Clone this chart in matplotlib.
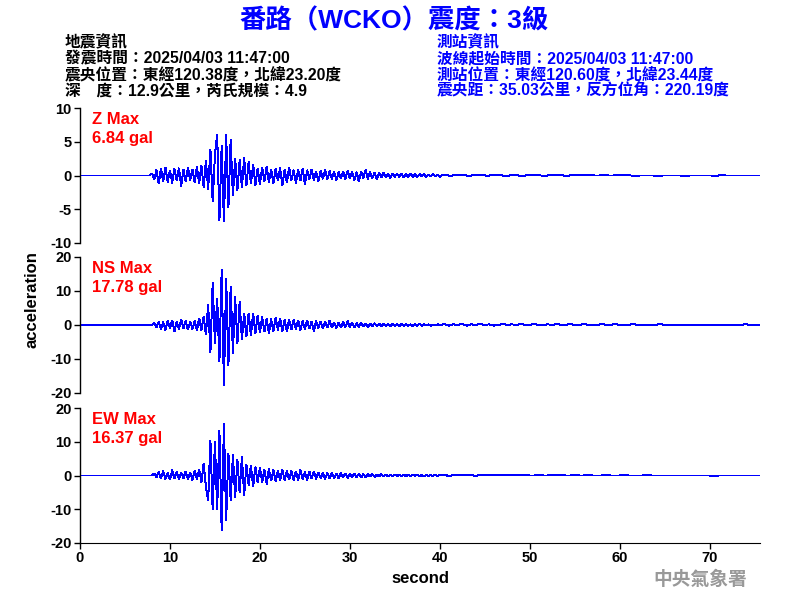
import numpy as np
import matplotlib
matplotlib.use("Agg")
import matplotlib.pyplot as plt

# ---------------- data ----------------
title = "番路（WCKO）震度：3級"
info_left = ["地震資訊",
             "發震時間：2025/04/03 11:47:00",
             "震央位置：東經120.38度，北緯23.20度",
             "深　度：12.9公里，芮氏規模：4.9"]
info_right = ["測站資訊",
              "波線起始時間：2025/04/03 11:47:00",
              "測站位置：東經120.60度，北緯23.44度",
              "震央距：35.03公里，反方位角：220.19度"]

channels = ["Z", "NS", "EW"]
max_values = [6.84, 17.78, 16.37]
y_limits = [10, 20, 20]
y_ticks = [[-10, -5, 0, 5, 10], [-20, -10, 0, 10, 20], [-20, -10, 0, 10, 20]]
x_ticks = [0, 10, 20, 30, 40, 50, 60, 70]
x_max = 75.6

main_step = 0.25
tail_step = 0.5
main_start = [7.75, 8.0, 8.0]

z_main = [0, 0.3, -0.6, 0.8, -1.2, 1.0, -0.9, 1.2, -1.0, 0.8,
          -1.1, 1.0, -0.8, 1.1, -1.6, 0.9, -0.9, 1.2, -0.7, 0.9,
          -1.0, 1.3, -1.2, 1.5, -1.8, 2.2, -2.0, 3.9, -3.9, 3.0,
          6.1, -6.7, 4.5, -6.84, 6.0, -4.7, 5.3, -3.0, 2.5, -2.2,
          2.3, -1.8, 2.6, -1.5, 2.0, -1.2, 1.6, -1.4, 1.1, -1.3,
          1.2, -0.9, 1.3, -1.0, 0.9, -1.2, 1.0, -0.8, 1.1, -1.5,
          0.9, -1.0, 1.2, -0.7, 0.8, -1.1, 0.9, -0.8, 1.0, -1.3,
          0.8, -0.6, 0.9, -0.7, 0.6, -0.9, 0.7, -0.5, 0.8, -0.6,
          0.7, -0.5, 0.6, -0.7, 0.5, -0.4, 0.6, -0.5, 0.7, -0.4,
          0.6, -0.7, 0.5, -0.9, 0.6, -0.4, 0.8, -0.5, 0.5, -0.4,
          0.4, -0.5, 0.4, -0.3, 0.4, -0.3, 0.3, -0.4, 0.3, -0.2,
          0.3, -0.2, 0.3, -0.3, 0.2, -0.2, 0.3, -0.2, 0.2, -0.2,
          0.2, -0.1, 0.2, -0.2, 0.1, -0.1, 0.2, -0.1, 0.1, -0.2, 0.1]
z_tail = [0.1, -0.1, 0.15, 0, 0.1, -0.1, 0.1, 0, 0.15, -0.1,
          0.1, 0, 0.1, -0.1, 0, 0.1, 0, -0.1, 0.1, 0,
          0.1, 0, -0.1, 0.1, 0, 0.1, 0, -0.1, 0.15, 0,
          0.1, 0, 0.1, 0, 0, 0.1, 0, 0, 0.1, 0,
          0.15, 0, -0.1, 0, 0, 0, 0, -0.1, 0, 0,
          0, 0, 0, -0.1, 0, 0, 0, 0, 0, 0,
          -0.15, 0.15, 0, 0, 0, 0, 0, 0, 0, 0, 0]

ns_main = [0, 0.5, -0.8, 1.0, -1.2, 0.9, -1.5, 1.2, -1.0, 1.4,
           -1.9, 1.0, -1.3, 1.6, -1.0, 1.2, -1.4, 1.0, -1.2, 1.3,
           -1.6, 2.0, -1.5, 2.4, -2.8, 5.9, -8.1, 12.5, -5.3, 7.9,
           -10.8, 16.2, -17.78, 13.8, -11.8, 11.3, -8.3, 8.3, -5.3, 6.9,
           -4.4, 3.5, -3.4, 3.5, -3.1, 3.4, -2.5, 2.8, -2.2, 2.5,
           -2.0, 2.0, -2.5, 1.8, -2.0, 2.2, -1.5, 2.0, -1.8, 1.5,
           -2.0, 1.6, -1.4, 1.5, -1.3, 1.4, -1.5, 1.2, -1.2, 1.4,
           -1.1, 1.0, -1.9, 1.2, -0.9, 1.0, -1.0, 0.9, -0.8, 1.3,
           -0.8, 0.8, -0.9, 0.7, -0.8, 0.9, -0.7, 1.2, -0.6, 0.7,
           -0.8, 0.6, -0.6, 0.7, -0.5, 0.5, -0.6, 0.4, -0.4, 0.5,
           -0.3, 0.4, -0.4, 0.3, -0.3, 0.3, -0.4, 0.3, -0.3, 0.2,
           -0.3, 0.3, -0.2, 0.3, -0.2, 0.2, -0.3, 0.2, -0.2, 0.3,
           -0.2, 0.2, -0.1, 0.2, -0.2, 0.1, -0.1, 0.2, -0.1]
ns_tail = [0.3, -0.2, 0.2, 0, 0.3, -0.2, 0.2, 0, 0.3, 0,
           0.2, -0.2, 0, 0.3, 0, 0.2, 0, 0.3, 0, 0,
           0.3, 0, 0, 0.2, 0, 0.3, 0, 0, 0.3, 0,
           0, 0.3, 0, 0, 0, 0.3, 0, 0, 0.3, 0,
           0, 0, 0.3, 0, 0, 0, 0, 0, 0.3, 0,
           0, 0, 0, 0, 0, 0, 0, 0, 0, 0,
           0, 0, 0, 0, 0, 0, 0, 0.3, 0, 0, 0]

ew_main = [0, 0.6, -0.5, 1.0, -0.8, 1.3, -1.0, 0.8, -1.2, 1.6,
           -0.9, 1.0, -1.1, 0.9, -0.8, 1.2, -1.0, 0.8, -1.3, 1.5,
           -1.2, 1.8, -2.0, 3.6, -3.3, -7.3, 10.3, -10.2, 10.0, -10.2,
           13.2, -16.37, 15.3, -13.2, 6.6, -7.3, 6.1, -6.4, 4.6, -5.1,
           5.6, -5.8, 3.2, -2.8, 3.0, -3.3, 2.5, -2.2, 2.4, -2.0,
           1.8, -2.5, 2.0, -1.6, 1.7, -1.8, 1.5, -1.4, 1.8, -1.5,
           1.3, -1.2, 1.4, -1.3, 1.2, -1.4, 1.6, -1.1, 1.0, -1.3,
           1.2, -0.9, 1.1, -1.0, 0.9, -0.8, 0.8, -1.0, 0.7, -0.8,
           0.8, -0.7, 0.6, -0.8, 0.7, -0.6, 0.6, -0.7, 0.5, -0.6,
           0.6, -0.5, 0.5, -0.6, 0.4, -0.5, 0.4, -0.3, 0.4, -0.4,
           0.3, -0.3, 0.4, -0.3, 0.3, -0.3, 0.2, -0.3, 0.3, -0.2,
           0.3, -0.2, 0.2, -0.2, 0.3, -0.2, 0.2, -0.1, 0.2, -0.2,
           0.1, -0.2, 0.2, -0.1, 0.1, -0.1, 0.2, -0.1, 0.1]
ew_tail = [0.3, -0.2, 0.2, 0, 0.3, 0, 0.2, -0.2, 0.3, 0,
           0.2, 0, 0.3, 0, 0.2, 0, 0.3, 0, 0.2, 0,
           0, 0.3, 0, 0, 0.2, 0, 0.3, 0, 0, 0.3,
           0, 0, 0.3, 0, 0, 0, 0.3, 0, 0, 0,
           0.3, 0, 0, 0, 0, 0.3, 0, 0, 0, 0,
           0, 0, 0, 0, 0, 0, 0, 0, 0, 0,
           -0.3, 0, 0, 0, 0, 0, 0, 0, 0, 0, 0]

mains = [z_main, ns_main, ew_main]
tails = [z_tail, ns_tail, ew_tail]

# ---------------- drawing ----------------
FAM = ["Liberation Sans", "Noto Sans CJK TC", "DejaVu Sans"]
plt.rcParams["font.family"] = FAM
plt.rcParams["axes.unicode_minus"] = False

fig = plt.figure(figsize=(8, 6), dpi=100)

axes_rects = [[0.1, 0.595, 0.85, 0.225],
              [0.1, 0.345, 0.85, 0.2267],
              [0.1, 0.095, 0.85, 0.225]]

for i, ch in enumerate(channels):
    ax = fig.add_axes(axes_rects[i])
    m = np.array(mains[i], dtype=float)
    tm = main_start[i] + main_step * np.arange(len(m))
    tl_vals = np.array(tails[i], dtype=float)
    tt = tm[-1] + tail_step * (1 + np.arange(len(tl_vals)))
    t = np.concatenate([[0.0], tm, tt, [x_max]])
    v = np.concatenate([[0.0], m, tl_vals, [0.0]])
    ax.plot(t, v, color="#0000FF", lw=0.7, solid_joinstyle="miter",
            antialiased=False)
    ax.set_xlim(0, x_max)
    ax.set_ylim(-y_limits[i], y_limits[i])
    ax.set_yticks(y_ticks[i])
    for s in ["top", "right"]:
        ax.spines[s].set_visible(False)
    ax.spines["left"].set_linewidth(1.0)
    ax.tick_params(axis="y", direction="out", length=4, width=1, pad=2)
    for lab in ax.get_yticklabels():
        lab.set_fontweight("bold")
        lab.set_fontsize(10.5)
    if i < 2:
        ax.spines["bottom"].set_visible(False)
        ax.set_xticks([])
    else:
        ax.set_xticks(x_ticks)
        ax.tick_params(axis="x", direction="out", length=4, width=1, pad=2)
        for lab in ax.get_xticklabels():
            lab.set_fontweight("bold")
            lab.set_fontsize(10.5)
        ax.set_xlabel("second", fontsize=12, fontweight="bold", labelpad=4)
    ax.text(0.018, 0.97, f"{ch} Max", transform=ax.transAxes, color="#FF0000",
            fontsize=12, fontweight="bold", va="top", ha="left")
    ax.text(0.018, 0.83, f"{max_values[i]:.2f} gal", transform=ax.transAxes,
            color="#FF0000", fontsize=12, fontweight="bold", va="top", ha="left")

fig.text(0.04, 0.5, "acceleration", rotation=90, ha="center", va="center",
         fontsize=12, fontweight="bold")

fig.text(0.4925, 0.966, title, ha="center", va="center", color="#0000FF",
         fontsize=19, fontweight="bold")

for k, line in enumerate(info_left):
    fig.text(0.081, 1 - (43 + 16 * k) / 600, line, ha="left", va="center",
             color="black", fontsize=11.3, fontweight="bold")
for k, line in enumerate(info_right):
    fig.text(0.546, 1 - (43 + 16 * k) / 600, line, ha="left", va="center",
             color="#0000FF", fontsize=11.3, fontweight="bold")

fig.text(0.934, 1 - 580 / 600, "中央氣象署", ha="right", va="center",
         color="#999999", fontsize=13.5, fontweight="bold")

fig.savefig("out.png", dpi=100)
